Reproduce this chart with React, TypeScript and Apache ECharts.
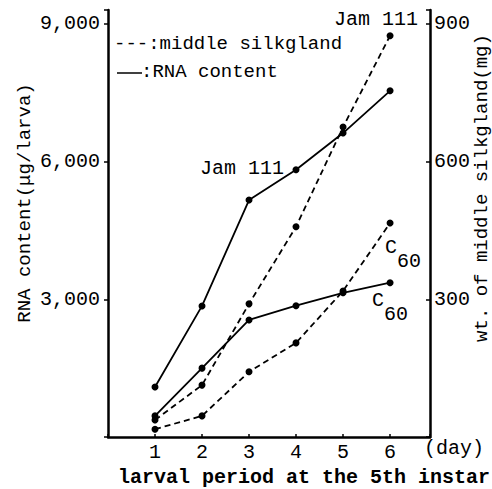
import React, { useEffect, useRef } from 'react';
import * as echarts from 'echarts';

const days = [1, 2, 3, 4, 5, 6];
const rnaJam = [1090, 2855, 5160, 5820, 6620, 7540];
const rnaC60 = [460, 1500, 2550, 2860, 3140, 3360];
const silkJam = [37, 113, 290, 458, 675, 874];
const silkC60 = [17, 46, 142, 205, 318, 466];
const leftTicks = [3000, 6000, 9000];
const rightTicks = [300, 600, 900];

const FONT = "'Liberation Mono', 'Courier New', Courier, monospace";

function pairs(vals: number[]) {
  return days.map((d, i) => [d, vals[i]]);
}

export default function App() {
  const ref = useRef<HTMLDivElement>(null);
  useEffect(() => {
    document.body.style.margin = '0';
    const chart = echarts.init(ref.current!, null, { renderer: 'svg' });
    const txt = (text: string, x: number, y: number, size = 20, extra: any = {}) => ({
      type: 'text',
      x,
      y,
      ...extra,
      style: {
        text,
        fontFamily: FONT,
        fontSize: size,
        fontWeight: extra.weight || 'normal',
        fill: '#000',
        align: extra.align || 'left',
        verticalAlign: 'middle',
      },
    });
    const solid = { color: '#000', width: 1.8, type: 'solid' };
    const dashed = { color: '#000', width: 1.8, type: [6, 4] };
    chart.setOption({
      animation: false,
      backgroundColor: '#fff',
      grid: { left: 108, right: 62, top: 10, bottom: 52 },
      xAxis: {
        type: 'value',
        min: 0,
        max: 6.85,
        interval: 1,
        splitLine: { show: false },
        axisLine: { show: true, lineStyle: { color: '#000', width: 2.5 } },
        axisTick: { show: true, inside: true, length: 3, lineStyle: { color: '#000', width: 1.5 } },
        axisLabel: {
          color: '#000',
          fontFamily: FONT,
          fontSize: 20,
          margin: 5,
          formatter: (v: number) => (days.includes(v) ? String(v) : ''),
        },
      },
      yAxis: [
        {
          type: 'value',
          min: 0,
          max: 9300,
          interval: 3000,
          position: 'left',
          splitLine: { show: false },
          axisLine: { show: true, lineStyle: { color: '#000', width: 2.5 } },
          axisTick: { show: true, length: 4, lineStyle: { color: '#000', width: 1.5 } },
          axisLabel: {
            color: '#000',
            fontFamily: FONT,
            fontSize: 20,
            margin: 8,
            formatter: (v: number) => (leftTicks.includes(v) ? v.toLocaleString('en-US') : ''),
          },
        },
        {
          type: 'value',
          min: 0,
          max: 930,
          interval: 300,
          position: 'right',
          splitLine: { show: false },
          axisLine: { show: true, lineStyle: { color: '#000', width: 2.5 } },
          axisTick: { show: true, inside: true, length: 4, lineStyle: { color: '#000', width: 1.5 } },
          axisLabel: {
            color: '#000',
            fontFamily: FONT,
            fontSize: 20,
            margin: 4,
            formatter: (v: number) => (rightTicks.includes(v) ? String(v) : ''),
          },
        },
      ],
      series: [
        {
          type: 'line',
          name: 'RNA content Jam 111',
          yAxisIndex: 0,
          data: pairs(rnaJam),
          symbol: 'circle',
          symbolSize: 7,
          itemStyle: { color: '#000' },
          lineStyle: solid,
        },
        {
          type: 'line',
          name: 'RNA content C60',
          yAxisIndex: 0,
          data: pairs(rnaC60),
          symbol: 'circle',
          symbolSize: 7,
          itemStyle: { color: '#000' },
          lineStyle: solid,
        },
        {
          type: 'line',
          name: 'middle silkgland Jam 111',
          yAxisIndex: 1,
          data: pairs(silkJam),
          symbol: 'circle',
          symbolSize: 7,
          itemStyle: { color: '#000' },
          lineStyle: dashed,
        },
        {
          type: 'line',
          name: 'middle silkgland C60',
          yAxisIndex: 1,
          data: pairs(silkC60),
          symbol: 'circle',
          symbolSize: 7,
          itemStyle: { color: '#000' },
          lineStyle: dashed,
        },
      ],
      graphic: [
        txt('---:middle silkgland', 114, 44, 19),
        { type: 'line', shape: { x1: 117, y1: 73, x2: 142, y2: 73 }, style: { stroke: '#000', lineWidth: 1.5 } },
        txt(':RNA content', 141, 72, 19),
        txt('Jam 111', 200, 168, 20),
        txt('Jam 111', 334, 19, 20),
        txt('C', 385, 247, 20),
        txt('60', 397, 261, 20),
        txt('C', 372, 300, 20),
        txt('60', 384, 314, 20),
        txt('(day)', 424, 448, 20),
        txt('larval period at the 5th instar', 304, 477, 20, { align: 'center', weight: 'bold' }),
        txt('RNA content(\u03bcg/larva)', 25, 203, 19, { align: 'center', rotation: Math.PI / 2 }),
        txt('wt. of middle silkgland(mg)', 482, 188, 19, { align: 'center', rotation: Math.PI / 2 }),
      ],
    });
    return () => chart.dispose();
  }, []);
  return (
    <div
      ref={ref}
      style={{ position: 'absolute', left: 0, top: 0, width: 492, height: 489, background: '#fff' }}
    />
  );
}
